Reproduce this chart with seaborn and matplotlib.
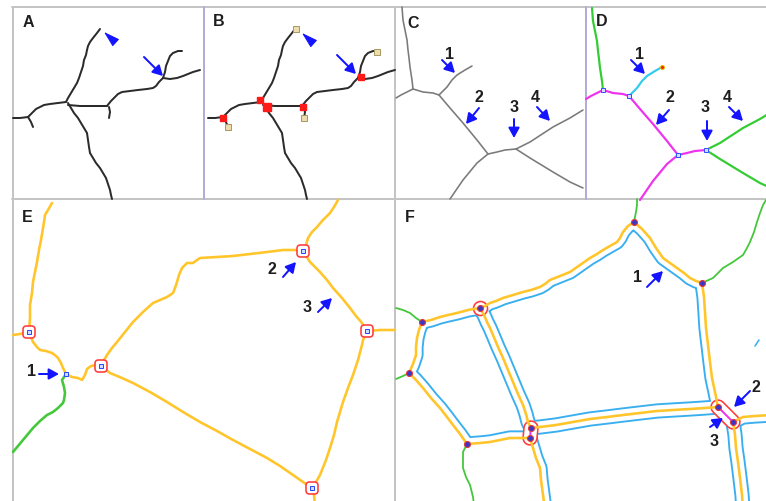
import numpy as np
import matplotlib
matplotlib.use("Agg")
import matplotlib.pyplot as plt
import seaborn as sns
from matplotlib.patches import Polygon, FancyBboxPatch

# ---------------------------------------------------------------- data
# Panel A skeleton branches (pixel coordinates); panel B reuses them shifted.
a_trunk = [(100, 29), (97, 33), (93, 38), (90, 42), (88, 46), (87, 50), (86, 55),
           (84, 60), (83, 66), (81, 72), (79, 78), (77, 83), (74, 88), (71, 93),
           (68, 98), (66, 102)]
a_left = [(66, 102), (58, 103), (50, 104), (44, 105), (40, 107), (36, 109),
          (33, 112), (30, 115), (28, 117), (20, 118), (13, 118)]
a_left_spur = [(28, 117), (31, 122), (33, 127)]
a_mid = [(68, 105), (80, 106), (95, 106), (107, 106)]
a_mid_spur = [(109, 107), (110, 112), (109, 118)]
a_upper = [(107, 106), (111, 101), (115, 97), (118, 94), (122, 92), (130, 91),
           (138, 90), (147, 89), (153, 88), (156, 86), (159, 82), (163, 78)]
a_fork_up = [(163, 78), (165, 72), (166, 66), (168, 61), (170, 56), (173, 53),
             (178, 51), (182, 51)]
a_fork_right = [(163, 78), (170, 79), (177, 78), (183, 76), (188, 74), (193, 72),
                (200, 70)]
a_down = [(68, 103), (71, 108), (74, 113), (78, 118), (81, 123), (84, 128),
          (87, 133), (88, 140), (89, 147), (90, 153), (93, 158), (96, 163),
          (100, 168), (103, 173), (106, 178), (108, 184), (110, 190), (111, 195),
          (112, 199)]
a_junctions = [(65, 100), (72, 107), (108, 107), (166, 77), (28, 118)]
a_junction_px = [6, 8, 6, 6, 6]
a_ends = [(101, 29), (182, 52), (109, 118), (33, 127)]
b_shift = 195

# Panel C skeleton; panel D shows the same skeleton with classified branches.
c_top = [(402, 7), (403, 20), (405, 30), (407, 40), (408, 50), (409, 58), (410, 67),
         (412, 80), (413, 89)]
c_left = [(413, 89), (407, 92), (401, 95), (396, 98)]
c_j1_j2 = [(413, 89), (423, 92), (433, 93), (439, 95)]
c_end = [(439, 95), (447, 87), (452, 80), (457, 75), (465, 70), (472, 66)]
c_j2_j3 = [(439, 95), (450, 108), (463, 123), (477, 140), (488, 154)]
c_j3_down = [(488, 154), (477, 163), (463, 180), (450, 199)]
c_j3_j4 = [(488, 154), (497, 152), (505, 150), (516, 149)]
c_j4_up = [(516, 149), (530, 142), (553, 127), (570, 118), (583, 110)]
c_j4_down = [(516, 149), (530, 158), (553, 172), (570, 182), (583, 188)]
c_junctions = [(413, 89), (439, 95), (488, 154), (516, 149)]
c_end_point = (472, 66)
d_shift = (190, 1)

# Panel E network
e_n1_up = [(52, 203), (48, 210), (45, 215), (44, 222), (43, 228), (41, 240), (39, 250),
           (37, 262), (35, 272), (33, 282), (32, 293), (30, 305), (30, 318), (29, 332)]
e_n1_left = [(29, 332), (20, 334), (13, 335)]
e_n1_p1 = [(29, 332), (33, 342), (37, 347), (40, 350), (46, 351), (52, 353), (56, 356),
           (58, 358), (61, 363), (63, 368), (66, 374)]
e_p1_n2 = [(66, 374), (72, 377), (78, 378), (82, 380), (85, 375), (87, 369), (91, 366),
           (96, 365), (101, 366)]
e_green = [(66, 374), (62, 380), (64, 387), (65, 393), (64, 400), (63, 403), (58, 408),
           (53, 412), (47, 415), (40, 421), (33, 428), (23, 440), (13, 452)]
e_n2_n3 = [(101, 366), (104, 360), (107, 355), (112, 348), (117, 342), (125, 332),
           (133, 322), (143, 312), (153, 303), (160, 300), (167, 297), (173, 293),
           (175, 288), (177, 282), (179, 275), (182, 268), (187, 263), (193, 263),
           (197, 260), (200, 258), (217, 257), (233, 256), (250, 254), (267, 252),
           (283, 250), (295, 250), (303, 251)]
e_n3_up = [(303, 251), (306, 245), (308, 238), (312, 232), (317, 227), (323, 220),
           (330, 213), (334, 207), (338, 200)]
e_n3_n4 = [(303, 251), (310, 262), (320, 272), (327, 280), (333, 288), (342, 298),
           (350, 308), (356, 316), (362, 323), (367, 331)]
e_n4_right = [(367, 331), (380, 330), (395, 330)]
e_n4_n5 = [(367, 331), (363, 340), (362, 345), (358, 360), (353, 375), (348, 388),
           (343, 402), (340, 412), (337, 422), (334, 435), (330, 448), (326, 460),
           (320, 475), (316, 482), (312, 488)]
e_n5_down = [(312, 488), (314, 495), (315, 505)]
e_n2_n5 = [(101, 366), (110, 373), (122, 378), (133, 383), (150, 392), (167, 402),
           (183, 412), (200, 422), (217, 431), (233, 440), (250, 449), (267, 458),
           (280, 466), (293, 475), (303, 482), (312, 488)]
e_nodes = [(29, 332), (101, 366), (303, 251), (367, 331), (312, 488)]
e_point = (66, 374)

# Panel F network
F_T, F_R1, F_A = (634, 222), (702, 283), (480, 308)
F_L1, F_L2, F_B1 = (422, 322), (409, 373), (467, 444)
F_C1, F_C2, F_D1, F_D2 = (531, 428), (530, 438), (718, 407), (733, 422)
f_T_R1 = [F_T, (642, 229), (650, 238), (656, 248), (663, 258), (670, 263), (677, 268),
          (684, 273), (690, 278), (696, 281), F_R1]
f_T_A = [F_T, (628, 226), (623, 232), (620, 238), (617, 242), (610, 246), (603, 250),
         (597, 254), (590, 258), (580, 265), (570, 272), (560, 276), (550, 280),
         (545, 284), (540, 287), (531, 290), (523, 292), (513, 295), (503, 298),
         (496, 301), (490, 303), (485, 306), F_A]
f_A_L1 = [F_A, (468, 310), (457, 313), (448, 315), (440, 317), (431, 320), F_L1]
f_L1_L2 = [F_L1, (419, 330), (417, 338), (416, 347), (416, 355), (413, 364), F_L2]
f_L2_B1 = [F_L2, (416, 380), (423, 388), (431, 398), (440, 408), (447, 417),
           (453, 425), (460, 434), F_B1]
f_B1_C2 = [F_B1, (480, 443), (490, 442), (500, 440), (510, 438), (520, 438), F_C2]
f_A_C1 = [F_A, (484, 315), (487, 322), (490, 328), (493, 335), (498, 347), (503, 358),
          (508, 370), (513, 382), (518, 394), (523, 405), (526, 414), (528, 422), F_C1]
f_C1_D1 = [F_C1, (540, 427), (556, 425), (573, 422), (590, 419), (607, 417),
           (623, 415), (640, 413), (657, 411), (673, 410), (690, 409), (705, 408), F_D1]
f_C2_down = [F_C2, (533, 448), (536, 458), (540, 468), (541, 480), (543, 495),
             (545, 510)]
f_R1_D1 = [F_R1, (704, 297), (705, 312), (706, 328), (708, 345), (710, 362),
           (712, 378), (715, 392), F_D1]
f_D2_right = [F_D2, (743, 417), (755, 416), (772, 415)]
f_D2_down = [F_D2, (735, 435), (736, 448), (738, 462), (740, 478), (742, 495),
             (743, 510)]
f_green = [
    [F_T, (636, 212), (637, 205), (637, 199)],
    [F_R1, (713, 278), (718, 273), (723, 268), (733, 262), (743, 255), (747, 248),
     (750, 242), (754, 232), (757, 222), (760, 213), (763, 205), (766, 200)],
    [F_L1, (416, 318), (410, 313), (403, 310), (396, 308)],
    [F_L2, (403, 376), (396, 379)],
    [F_B1, (463, 452), (463, 460), (463, 468), (466, 477), (470, 485), (473, 497),
     (474, 505)],
]
f_cyan_tick = [(755, 346), (759, 340)]
f_nodes = [F_T, F_R1, F_A, F_L1, F_L2, F_B1, F_C1, F_C2, F_D1, F_D2]
f_pairs = [(F_C1, F_C2), (F_D1, F_D2)]

# Text labels and arrows
panel_labels = ["A", "B", "C", "D", "E", "F"]
panel_label_xy = [(28, 22), (219, 21), (413, 23), (602, 21), (27, 218), (410, 218)]
number_labels = ["1", "2", "3", "4", "1", "2", "3", "4", "1", "2", "3", "1", "2", "3"]
number_xy = [(450, 54), (479, 97), (514, 107), (535, 97),
             (639, 54), (670, 97), (705, 107), (727, 97),
             (31, 371), (272, 269), (307, 308),
             (638, 278), (756, 388), (714, 442)]
arrow_tails = [(144, 57), (337, 55),
               (442, 60), (479, 108), (514, 119), (537, 107),
               (631, 60), (669, 110), (707, 121), (729, 107),
               (39, 374), (283, 277), (318, 312),
               (647, 287), (750, 391), (710, 427)]
arrow_heads = [(163, 76), (356, 74),
               (455, 73), (466, 124), (514, 138), (550, 121),
               (645, 74), (656, 125), (707, 141), (743, 121),
               (59, 374), (296, 262), (332, 298),
               (663, 271), (734, 407), (723, 418)]
pointer_tails = [(115, 42), (313, 43)]
pointer_tips = [(104, 32), (302, 33)]

# ---------------------------------------------------------------- style
BLUE = "#1414ff"
DARK = "#2b2b2b"
GRAY = "#7a7a7a"
GREEN_D = "#33cc33"
MAGENTA = "#ee33ee"
CYAN_D = "#33ccee"
YELLOW = "#ffc52a"
GREEN_F = "#44c83a"
CYAN_F = "#3aaff0"
RED = "#ff3b3b"
PX = 0.72  # points per pixel at 100 dpi

sns.set_theme(style="white")
plt.rcParams["font.family"] = ["Liberation Sans", "DejaVu Sans"]

fig = plt.figure(figsize=(7.66, 5.01), dpi=100)
ax = fig.add_axes([0, 0, 1, 1])


def trace(pts, color, width_px, z=2.0, dx=0, dy=0):
    p = np.asarray(pts, dtype=float)
    sns.lineplot(x=p[:, 0] + dx, y=p[:, 1] + dy, sort=False, estimator=None,
                 color=color, linewidth=width_px * PX, ax=ax, zorder=z,
                 solid_capstyle="round", solid_joinstyle="round")
    return ax.lines[-1]


def band(cell):
    """Cyan contour drawn just inside a closed cell of the network."""
    patch = Polygon(cell, closed=True, transform=ax.transData)
    ring = list(cell) + [cell[0]]
    outer = trace(ring, CYAN_F, 2 * 7.6, z=1.0)
    outer.set_clip_path(patch)
    inner = trace(ring, "white", 2 * 5.7, z=1.1)
    inner.set_clip_path(patch)


# ---------------------------------------------------------------- panel frames
frame = "#c4c4c4"
frame_b = "#b4acd8"
ax.plot([12, 766], [7, 7], color=frame, lw=2 * PX, zorder=0.5)
ax.plot([12.5, 12.5], [7, 501], color=frame, lw=2 * PX, zorder=0.5)
ax.plot([12, 766], [199, 199], color=frame, lw=2 * PX, zorder=0.5)
ax.plot([395, 395], [7, 501], color=frame, lw=2 * PX, zorder=0.5)
ax.plot([204, 204], [7, 199], color=frame_b, lw=2 * PX, zorder=0.5)
ax.plot([586, 586], [7, 199], color=frame_b, lw=2 * PX, zorder=0.5)

# ---------------------------------------------------------------- panels A and B
a_paths = [a_trunk, a_left, a_left_spur, a_mid, a_mid_spur, a_upper,
           a_fork_up, a_fork_right, a_down]
for path in a_paths:
    trace(path, DARK, 2.0)
    trace(path, DARK, 2.0, dx=b_shift)
for (x, y), s in zip(a_junctions, a_junction_px):
    ax.plot(x + b_shift, y, marker="s", ms=s * PX, color="#ff1a1a",
            mec="#ff1a1a", zorder=4)
for x, y in a_ends:
    ax.plot(x + b_shift, y, marker="s", ms=6 * PX, mfc="#ecdcae",
            mec="#a89a62", mew=1 * PX, zorder=4)

# ---------------------------------------------------------------- panels C and D
c_paths = [c_top, c_left, c_j1_j2, c_end, c_j2_j3, c_j3_down, c_j3_j4,
           c_j4_up, c_j4_down]
d_colors = [GREEN_D, MAGENTA, MAGENTA, CYAN_D, MAGENTA, MAGENTA, MAGENTA,
            GREEN_D, GREEN_D]
for path, col in zip(c_paths, d_colors):
    trace(path, GRAY, 1.6)
    trace(path, col, 2.2, dx=d_shift[0], dy=d_shift[1])
for x, y in c_junctions:
    ax.plot(x + d_shift[0], y + d_shift[1], marker="s", ms=5 * PX,
            mfc="#d4dcff", mec="#3355ff", mew=1 * PX, zorder=4)
ax.plot(c_end_point[0] + d_shift[0], c_end_point[1] + d_shift[1], marker="o",
        ms=4 * PX, mfc="#e02020", mec="#e8c000", mew=1 * PX, zorder=4)

# ---------------------------------------------------------------- panel E
for path in [e_n1_up, e_n1_left, e_n1_p1, e_p1_n2, e_n2_n3, e_n3_up, e_n3_n4,
             e_n4_right, e_n4_n5, e_n5_down, e_n2_n5]:
    trace(path, YELLOW, 2.6, z=3)
trace(e_green, GREEN_F, 2.6, z=3)
for x, y in e_nodes:
    ax.add_patch(FancyBboxPatch((x - 6, y - 6), 12, 12,
                                boxstyle="round,pad=0,rounding_size=3.5",
                                fc="white", ec=RED, lw=1.6 * PX, zorder=4))
    ax.plot(x, y, marker="s", ms=4.5 * PX, mfc="#d0dcff", mec="#2a4cff",
            mew=1 * PX, zorder=5)
ax.plot(*e_point, marker="s", ms=4.5 * PX, mfc="#d0dcff", mec="#2a4cff",
        mew=1 * PX, zorder=5)

# ---------------------------------------------------------------- panel F
big_cell = (f_T_R1 + f_R1_D1[1:] + f_C1_D1[::-1][1:] + f_A_C1[::-1][1:]
            + f_T_A[::-1][1:-1])
left_cell = (f_A_L1[::-1] + f_A_C1[1:] + [F_C2] + f_B1_C2[::-1][1:]
             + f_L2_B1[::-1][1:] + f_L1_L2[::-1][1:-1])
lower_cell = ([F_C2] + f_C1_D1 + [F_D2] + f_D2_down[1:]
              + [(743, 540), (545, 540)] + f_C2_down[::-1][:-1])
right_cell = ([F_D2] + f_D2_right[1:] + [(800, 415), (800, 540), (743, 540)]
              + f_D2_down[::-1][:-1])
for cell in [big_cell, left_cell, lower_cell, right_cell]:
    band(cell)

ax.plot(F_A[0], F_A[1], marker="o", ms=14 * PX, mfc="white", mec=RED,
        mew=1.6 * PX, zorder=2)
for p, q in f_pairs:
    trace([p, q], RED, 15.5, z=2)
    trace([p, q], "white", 12.3, z=2.1)

for path in [f_T_R1, f_T_A, f_A_L1, f_L1_L2, f_L2_B1, f_B1_C2, f_A_C1, f_C1_D1,
             f_C2_down, f_R1_D1, f_D2_right, f_D2_down]:
    trace(path, YELLOW, 2.6, z=3)
for path in f_green:
    trace(path, GREEN_F, 1.8, z=3)
for p, q in f_pairs:
    trace([p, q], MAGENTA, 2.0, z=3.5)
trace(f_cyan_tick, CYAN_F, 1.6, z=3)
for x, y in f_nodes:
    ax.plot(x, y, marker="o", ms=6 * PX, mfc="#3a36c8", mec="#e43a3a",
            mew=1.1 * PX, zorder=4)

# ---------------------------------------------------------------- annotations
for tail, head in zip(arrow_tails, arrow_heads):
    ax.annotate("", xy=head, xytext=tail, zorder=7,
                arrowprops=dict(arrowstyle="-|>,head_length=0.6,head_width=0.33",
                                color=BLUE, lw=2 * PX, shrinkA=0, shrinkB=0,
                                mutation_scale=10))
for tail, tip in zip(pointer_tails, pointer_tips):
    ax.annotate("", xy=tip, xytext=tail, zorder=7,
                arrowprops=dict(arrowstyle="-|>,head_length=1.0,head_width=0.3",
                                color=BLUE, lw=1 * PX, shrinkA=0, shrinkB=0,
                                mutation_scale=10))

for txt, (x, y) in zip(panel_labels, panel_label_xy):
    ax.text(x, y, txt, fontsize=11.5, fontweight="bold", color="#1e1e1e",
            ha="center", va="center", zorder=8)
for txt, (x, y) in zip(number_labels, number_xy):
    ax.text(x, y, txt, fontsize=11.5, fontweight="bold", color="#1e1e1e",
            ha="center", va="center", zorder=8)

ax.set_xlim(0, 766)
ax.set_ylim(501, 0)
ax.axis("off")
fig.savefig("out.png", dpi=100, facecolor="white")
